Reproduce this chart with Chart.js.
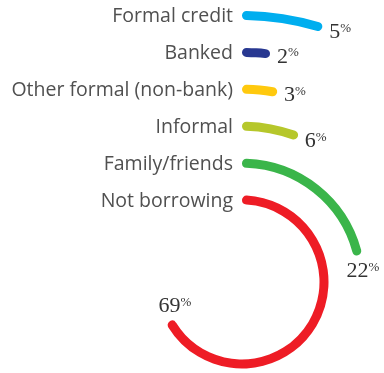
<!DOCTYPE html>
<html>
<head>
<meta charset="utf-8">
<script src="https://cdn.jsdelivr.net/npm/chart.js@4.4.1/dist/chart.umd.min.js"></script>
<style>
  html, body { margin: 0; padding: 0; background: #fff; overflow: hidden; }
</style>
</head>
<body>
<canvas id="chart" width="384" height="373"></canvas>
<script>
// outermost ring first
const categories = ["Formal credit", "Banked", "Other formal (non-bank)", "Informal", "Family/friends", "Not borrowing"];
const shares = [5, 2, 3, 6, 22, 69];
const ringColors = ["#00aeef", "#283891", "#ffc90e", "#b6c72b", "#3ab54a", "#ee1c25"];

const RING = 9;      // stroke thickness
const GAP = 27.9;    // empty space between rings

const datasets = [];
categories.forEach((name, i) => {
  if (i > 0) {
    datasets.push({ label: "", data: [100], backgroundColor: ["rgba(0,0,0,0)"], weight: GAP, spacer: true });
  }
  datasets.push({
    label: name,
    data: [shares[i], 100 - shares[i]],
    backgroundColor: [ringColors[i], "rgba(0,0,0,0)"],
    weight: RING,
  });
});

const ringLabels = {
  id: "ringLabels",
  afterDatasetsDraw(chart) {
    const ctx = chart.ctx;
    chart.data.datasets.forEach((ds, di) => {
      if (ds.spacer) return;
      const arc = chart.getDatasetMeta(di).data[0];
      const { x, y, endAngle, innerRadius, outerRadius } =
        arc.getProps(["x", "y", "endAngle", "innerRadius", "outerRadius"], true);
      const r = (innerRadius + outerRadius) / 2;

      ctx.save();
      // category name, left of where the ring starts
      ctx.font = "19.5px 'Open Sans'";
      ctx.fillStyle = "#505050";
      ctx.textAlign = "right";
      ctx.textBaseline = "alphabetic";
      ctx.fillText(ds.label, x - 9, y - r + 7);

      // value, just past the end of the ring
      const ex = x + r * Math.cos(endAngle);
      const ey = y + r * Math.sin(endAngle);
      const tx = -Math.sin(endAngle), ty = Math.cos(endAngle);
      const num = String(ds.data[0]);
      ctx.textAlign = "left";
      ctx.font = "22px 'Liberation Serif'";
      const nw = ctx.measureText(num).width;
      ctx.font = "13px 'Liberation Serif'";
      const pw = ctx.measureText("%").width;
      const w = nw + pw, h = 15;
      let left, base;
      if (Math.abs(tx) >= Math.abs(ty)) {
        left = ex + 7;
        base = ey + ty * 8 + h / 2;
      } else if (ty > 0) {
        left = ex + 5 - w / 2;
        base = ey + 7 + h;
      } else {
        left = ex + 5 - w / 2;
        base = ey - 9;
      }
      ctx.fillStyle = "#333333";
      ctx.font = "22px 'Liberation Serif'";
      ctx.fillText(num, left, base);
      ctx.font = "13px 'Liberation Serif'";
      ctx.fillText("%", left + nw, base - 6.2);
      ctx.restore();
    });
  },
};

new Chart(document.getElementById("chart").getContext("2d"), {
  type: "doughnut",
  data: { labels: ["share", "rest"], datasets: datasets },
  options: {
    responsive: false,
    animation: false,
    events: [],
    radius: 271,
    cutout: "28.6%",
    rotation: 0,
    circumference: 350,
    layout: { padding: { left: 100, top: 191, right: 0, bottom: 0 } },
    elements: { arc: { borderWidth: 0, borderRadius: 5 } },
    plugins: {
      legend: { display: false },
      tooltip: { enabled: false },
    },
  },
  plugins: [ringLabels],
});
</script>
</body>
</html>
